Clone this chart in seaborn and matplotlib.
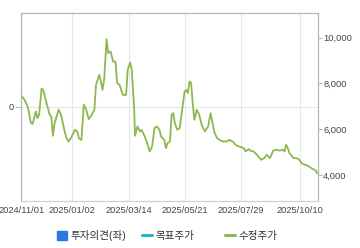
import pandas as pd
import matplotlib
matplotlib.use("Agg")
import matplotlib.pyplot as plt
import matplotlib.dates as mdates
from matplotlib.patches import Patch
from matplotlib.lines import Line2D
from matplotlib.ticker import FuncFormatter
import seaborn as sns

sns.set_style("white")
plt.rcParams['font.family'] = ['Liberation Sans', 'Noto Sans CJK KR', 'DejaVu Sans']

# 수정주가 (adjusted price)
dates = [
    "2024-11-01", "2024-11-05", "2024-11-09", "2024-11-13", "2024-11-15", "2024-11-19",
    "2024-11-21", "2024-11-23", "2024-11-26", "2024-11-28", "2024-12-01", "2024-12-06",
    "2024-12-08", "2024-12-10", "2024-12-12", "2024-12-17", "2024-12-20", "2024-12-24",
    "2024-12-26", "2024-12-29", "2025-01-01", "2025-01-06", "2025-01-09", "2025-01-11",
    "2025-01-14", "2025-01-17", "2025-01-20", "2025-01-23", "2025-01-26", "2025-01-30",
    "2025-02-01", "2025-02-05", "2025-02-07", "2025-02-09", "2025-02-11", "2025-02-14",
    "2025-02-16", "2025-02-19", "2025-02-22", "2025-02-25", "2025-02-27", "2025-03-02",
    "2025-03-06", "2025-03-10", "2025-03-12", "2025-03-15", "2025-03-17", "2025-03-20",
    "2025-03-21", "2025-03-24", "2025-03-27", "2025-03-29", "2025-04-02", "2025-04-05",
    "2025-04-08", "2025-04-11", "2025-04-14", "2025-04-17", "2025-04-20", "2025-04-22",
    "2025-04-26", "2025-04-28", "2025-04-30", "2025-05-03", "2025-05-05", "2025-05-07",
    "2025-05-09", "2025-05-12", "2025-05-15", "2025-05-18", "2025-05-21", "2025-05-23",
    "2025-05-25", "2025-05-27", "2025-05-29", "2025-05-31", "2025-06-02", "2025-06-05",
    "2025-06-08", "2025-06-11", "2025-06-15", "2025-06-19", "2025-06-22", "2025-06-24",
    "2025-06-27", "2025-06-30", "2025-07-03", "2025-07-07", "2025-07-12", "2025-07-15",
    "2025-07-19", "2025-07-23", "2025-07-27", "2025-08-02", "2025-08-04", "2025-08-08",
    "2025-08-10", "2025-08-14", "2025-08-18", "2025-08-23", "2025-08-27", "2025-08-30",
    "2025-09-03", "2025-09-07", "2025-09-11", "2025-09-15", "2025-09-19", "2025-09-21",
    "2025-09-23", "2025-09-25", "2025-09-27", "2025-10-02", "2025-10-06", "2025-10-09",
    "2025-10-12", "2025-10-16", "2025-10-20", "2025-10-24", "2025-10-28", "2025-10-30",
    "2025-10-31",
]
prices = [
    7470, 7290, 6990, 6260, 6230, 6770,
    6480, 6630, 7770, 7720, 7290, 6630,
    6550, 5710, 6260, 6850, 6630, 5970,
    5680, 5460, 5600, 5970, 5900, 5600,
    5530, 7070, 6850, 6440, 6580, 6850,
    7940, 8380, 8090, 7720, 8160, 9940,
    9330, 9400, 8960, 8960, 8020, 7940,
    7500, 7500, 8600, 8920, 8600, 6850,
    5710, 6120, 5900, 5970, 5680, 5390,
    5020, 5240, 6050, 6120, 5970, 5680,
    5530, 5170, 5390, 5460, 6630, 6700,
    6260, 5970, 6050, 6850, 7650, 7720,
    7580, 8090, 8020, 7140, 6410, 6850,
    6630, 6190, 5900, 6120, 6700, 6330,
    5830, 5600, 5530, 5460, 5460, 5530,
    5460, 5310, 5240, 5170, 5020, 5130,
    5060, 5020, 4880, 4660, 4730, 4880,
    4730, 5060, 5100, 5060, 5100, 5020,
    5310, 5170, 4950, 4730, 4730, 4660,
    4510, 4440, 4390, 4290, 4220, 4150,
    4070,
]

tick_dates = ["2024-11-01", "2025-01-02", "2025-03-14", "2025-05-21", "2025-07-29", "2025-10-10"]
price_ticks = [4000, 6000, 8000, 10000]
legend_labels = ["투자의견(좌)", "목표주가", "수정주가"]

green = "#8cb852"
spine_c = "#b4b4b4"
grid_c = "#e8e8e8"

df = pd.DataFrame({"date": pd.to_datetime(dates), "price": prices})

fig = plt.figure(figsize=(3.6, 2.48), dpi=100)
ax = fig.add_axes([0.059, 0.19, 0.824, 0.759])
ax2 = ax.twinx()

sns.lineplot(data=df, x="date", y="price", ax=ax2, color=green, linewidth=1.3)

ax2.set_xlim(pd.Timestamp("2024-11-01"), pd.Timestamp("2025-11-01"))
ax2.set_ylim(2860, 11100)
ax2.set_yticks(price_ticks)
ax2.yaxis.set_major_formatter(FuncFormatter(lambda v, p: f"{int(v):,}"))
ax2.set_xlabel("")
ax2.set_ylabel("")

ax.set_ylim(-1, 1)
ax.set_yticks([0])
ax.set_yticklabels(["0"])
ax.set_xticks(pd.to_datetime(tick_dates))
ax.xaxis.set_major_formatter(mdates.DateFormatter("%Y/%m/%d"))
ax.grid(True, color=grid_c, linewidth=0.8)
ax.set_axisbelow(True)

ax.tick_params(axis="x", length=2.5, color="#cccccc", labelsize=6.7, labelcolor="#444444", pad=1.5)
ax.tick_params(axis="y", length=4, color=spine_c, labelsize=6.7, labelcolor="#444444", pad=1.5)
ax2.tick_params(axis="y", length=2.6, color=spine_c, labelsize=6.7, labelcolor="#444444", pad=1.2)

for a in (ax, ax2):
    for s in a.spines.values():
        s.set_color(spine_c)
        s.set_linewidth(0.8)
ax.spines["bottom"].set_color("#d0d0d0")
ax2.spines["bottom"].set_color("#d0d0d0")

# legend, three separate slots like the original
handles = [
    Patch(facecolor="#2a78e0", edgecolor="#2a78e0"),
    Line2D([], [], color="#2ab3c6", linewidth=2.2),
    Line2D([], [], color=green, linewidth=2.2),
]
slots = [57 / 360, 142 / 360, 225 / 360]
for h, lab, x in zip(handles, legend_labels, slots):
    leg = fig.legend([h], [lab], loc="center left", bbox_to_anchor=(x, 0.05),
                     frameon=False, fontsize=7.6, borderpad=0, borderaxespad=0,
                     handlelength=0.95, handleheight=0.95, handletextpad=0.35,
                     labelcolor="#333333")

fig.savefig("out.png", dpi=100)
